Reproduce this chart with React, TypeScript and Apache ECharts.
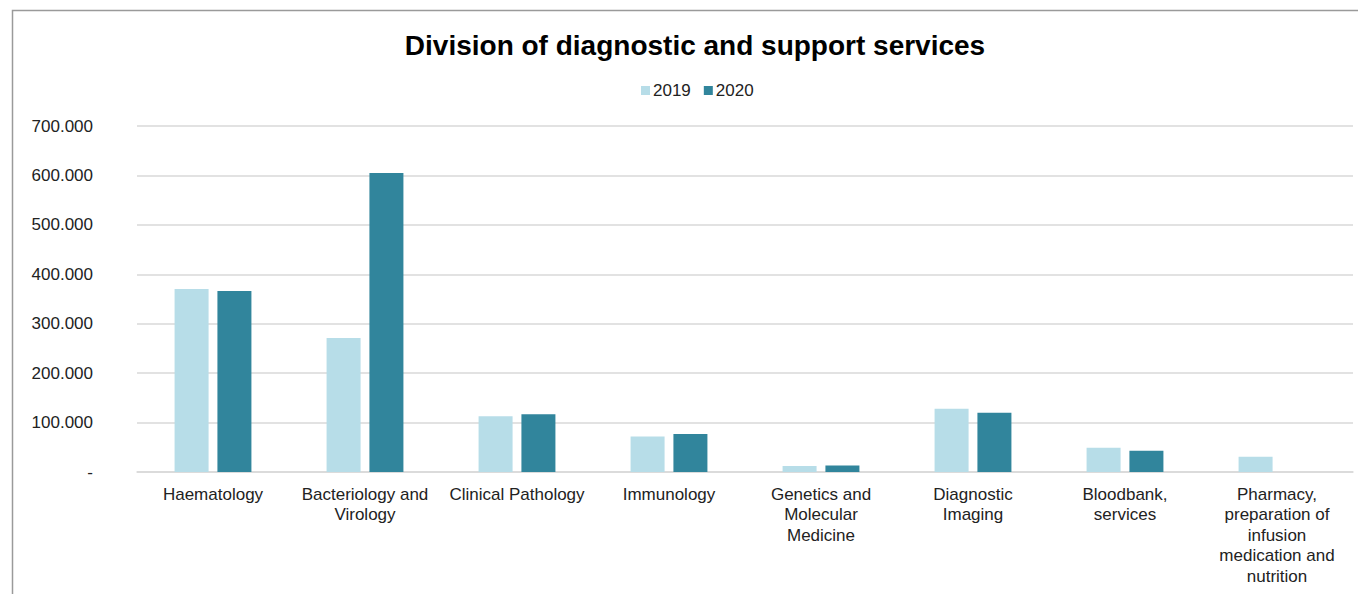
import React, { useEffect, useRef } from "react";
import * as echarts from "echarts";

const categories = [
  "Haematology",
  "Bacteriology and\nVirology",
  "Clinical Pathology",
  "Immunology",
  "Genetics and\nMolecular\nMedicine",
  "Diagnostic\nImaging",
  "Bloodbank,\nservices",
  "Pharmacy,\npreparation of\ninfusion\nmedication and\nnutrition",
];
const values2019 = [370000, 271000, 113000, 72000, 12000, 128000, 49000, 31000];
const values2020 = [366000, 605000, 117000, 77000, 13000, 120000, 43000, 0];
const seriesNames = ["2019", "2020"];

const FONT = "'Liberation Sans', Arial, sans-serif";

function fmt(v: number): string {
  if (v === 0) return "-";
  return Math.round(v).toString().replace(/\B(?=(\d{3})+(?!\d))/g, ".");
}

export default function App() {
  const ref = useRef<HTMLDivElement>(null);
  useEffect(() => {
    if (!ref.current) return;
    const chart = echarts.init(ref.current, undefined, { renderer: "svg" });
    chart.setOption({
      animation: false,
      backgroundColor: "#ffffff",
      textStyle: { fontFamily: FONT },
      graphic: [
        {
          type: "rect",
          shape: { x: 12.5, y: 10.5, width: 1500, height: 800 },
          style: { fill: "none", stroke: "#9a9a9a", lineWidth: 1.5 },
          silent: true,
        },
      ],
      title: {
        text: "Division of diagnostic and support services",
        left: 690,
        textAlign: "center",
        top: 26,
        textStyle: { fontFamily: FONT, fontSize: 28, fontWeight: "bold", color: "#000" },
      },
      legend: {
        data: seriesNames,
        left: 636,
        top: 77,
        itemWidth: 9,
        itemHeight: 9,
        itemGap: 13,
        icon: "rect",
        textStyle: { fontFamily: FONT, fontSize: 17, color: "#222", padding: [0, 0, 0, -2] },
      },
      grid: { left: 137, right: 5, top: 126, bottom: 122, containLabel: false },
      xAxis: {
        type: "category",
        data: categories,
        axisLine: { lineStyle: { color: "#d9d9d9", width: 1.5 } },
        axisTick: { show: false },
        axisLabel: {
          interval: 0,
          margin: 12,
          fontFamily: FONT,
          fontSize: 17,
          lineHeight: 20.5,
          color: "#222",
          align: "center",
        },
      },
      yAxis: {
        type: "value",
        min: 0,
        max: 700000,
        interval: 100000,
        axisLine: { show: false },
        axisTick: { show: false },
        splitLine: { lineStyle: { color: "#d9d9d9", width: 1.5 } },
        axisLabel: {
          margin: 44,
          fontFamily: FONT,
          fontSize: 17,
          color: "#222",
          formatter: (v: number) => fmt(v),
        },
      },
      series: [
        {
          name: seriesNames[0],
          type: "bar",
          data: values2019,
          barWidth: 34,
          barGap: "26%",
          itemStyle: { color: "#b7dde8" },
        },
        {
          name: seriesNames[1],
          type: "bar",
          data: values2020,
          barWidth: 34,
          barGap: "26%",
          itemStyle: { color: "#31859c" },
        },
      ],
    });
    return () => chart.dispose();
  }, []);
  return (
    <div
      ref={ref}
      style={{ position: "fixed", left: 0, top: 0, width: 1358, height: 594, background: "#fff" }}
    />
  );
}
